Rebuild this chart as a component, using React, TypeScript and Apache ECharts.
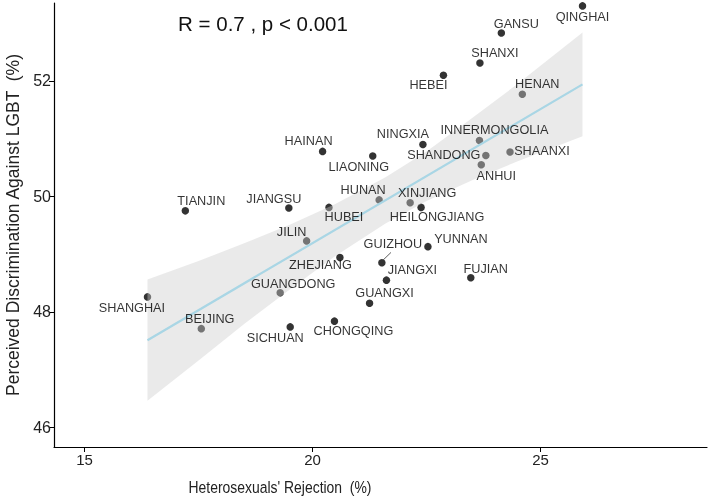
import React, { useEffect, useRef } from "react";
import * as echarts from "echarts";

const provinces = [
  "TIANJIN", "JIANGSU", "HAINAN", "HUBEI", "JILIN", "QINGHAI", "GANSU", "SHANXI",
  "HEBEI", "HENAN", "NINGXIA", "LIAONING", "INNERMONGOLIA", "SHANDONG", "SHAANXI",
  "ANHUI", "HUNAN", "XINJIANG", "HEILONGJIANG", "YUNNAN", "GUIZHOU", "JIANGXI",
  "FUJIAN", "GUANGXI", "SHANGHAI", "BEIJING", "GUANGDONG", "SICHUAN", "CHONGQING",
  "ZHEJIANG",
];
const rejection = [
  17.21, 19.48, 20.22, 20.36, 19.87, 25.92, 24.14, 23.67,
  22.87, 24.6, 22.42, 21.32, 23.66, 23.8, 24.33,
  23.7, 21.46, 22.14, 22.38, 22.53, 21.52, 21.62,
  23.47, 21.25, 16.38, 17.56, 19.29, 19.51, 20.48,
  20.6,
];
const discrimination = [
  49.75, 49.8, 50.78, 49.81, 49.23, 53.3, 52.83, 52.31,
  52.1, 51.77, 50.9, 50.7, 50.97, 50.71, 50.77,
  50.55, 49.94, 49.89, 49.81, 49.13, 48.85, 48.55,
  48.59, 48.15, 48.26, 47.71, 48.33, 47.74, 47.84,
  48.94,
];
const xTicks = [15, 20, 25];
const yTicks = [46, 48, 50, 52];
const fitX = [16.38, 25.92];
const fitY = [47.51, 51.94];
const bandX = [16.38, 17.5, 18.5, 19.5, 20.5, 21.6, 22.5, 23.5, 24.5, 25.92];
const bandLower = [46.46, 47.16, 47.79, 48.39, 48.97, 49.53, 49.92, 50.28, 50.61, 51.04];
const bandUpper = [48.56, 48.88, 49.19, 49.51, 49.87, 50.33, 50.78, 51.36, 51.95, 52.84];
const leaderX = [21.55, 21.72];
const leaderY = [48.9, 49.03];
const annotation = "R = 0.7 , p < 0.001";
const xTitle = "Heterosexuals' Rejection  (%)";
const yTitle = "Perceived Discrimination Against LGBT  (%)";

const labelOffsets: Record<string, [number, number]> = {
  TIANJIN: [16, -10],
  JIANGSU: [-15, -9],
  HAINAN: [-14, -10],
  HUBEI: [15, 10],
  JILIN: [-15, -9],
  QINGHAI: [0, 11],
  GANSU: [15, -9],
  SHANXI: [15, -10],
  HEBEI: [-15, 10],
  HENAN: [15, -10],
  NINGXIA: [-20, -10],
  LIAONING: [-14, 11],
  INNERMONGOLIA: [15, -10],
  SHANDONG: [-42, 0],
  SHAANXI: [32, -1],
  ANHUI: [15, 11],
  HUNAN: [-16, -10],
  XINJIANG: [17, -10],
  HEILONGJIANG: [16, 10],
  YUNNAN: [33, -8],
  GUIZHOU: [11, -19],
  JIANGXI: [26, -10],
  FUJIAN: [15, -9],
  GUANGXI: [15, -10],
  SHANGHAI: [-15.5, 11],
  BEIJING: [8.5, -10],
  GUANGDONG: [13, -9],
  SICHUAN: [-15, 11],
  CHONGQING: [19, 10],
  ZHEJIANG: [-19.5, 7],
};

const SANS = "'Liberation Sans', Arial, Helvetica, sans-serif";

export default function App() {
  const ref = useRef<HTMLDivElement>(null);
  useEffect(() => {
    const chart = echarts.init(ref.current!, null, { renderer: "svg" });
    const points = provinces.map((p, i) => [rejection[i], discrimination[i], p]);
    chart.setOption({
      animation: false,
      grid: { left: 54, right: 2, top: 3, bottom: 50, containLabel: false, outerBoundsMode: "none" },
      xAxis: {
        type: "value",
        min: 14.33,
        max: 28.65,
        axisLine: { show: true, onZero: false, lineStyle: { color: "#000", width: 1.2 } },
        axisTick: { show: true, length: 5, customValues: xTicks, lineStyle: { color: "#000", width: 1 } },
        axisLabel: { customValues: xTicks, fontSize: 15, fontFamily: SANS, color: "#222", margin: 5 },
        splitLine: { show: false },
      },
      yAxis: {
        type: "value",
        min: 45.66,
        max: 53.35,
        name: yTitle,
        nameLocation: "middle",
        nameGap: 31,
        nameRotate: 90,
        nameTextStyle: { fontSize: 17.5, fontFamily: SANS, color: "#222" },
        axisLine: { show: true, onZero: false, lineStyle: { color: "#000", width: 1.2 } },
        axisTick: { show: true, length: 5, customValues: yTicks, lineStyle: { color: "#000", width: 1 } },
        axisLabel: { customValues: yTicks, fontSize: 16, fontFamily: SANS, color: "#222", margin: 3 },
        splitLine: { show: false },
      },
      graphic: [
        {
          type: "text",
          x: 263,
          y: 23,
          z: 10,
          style: {
            text: annotation,
            fontSize: 20.5,
            fontFamily: SANS,
            fill: "#111",
            align: "center",
            verticalAlign: "middle",
            textAlign: "center",
            textVerticalAlign: "middle",
          },
        },
        {
          type: "text",
          x: 280,
          y: 486.5,
          scaleX: 0.82,
          z: 10,
          style: {
            text: xTitle,
            fontSize: 17,
            fontFamily: SANS,
            fill: "#222",
            align: "center",
            verticalAlign: "middle",
            textAlign: "center",
            textVerticalAlign: "middle",
          },
        },
      ],
      series: [
        {
          type: "scatter",
          data: points,
          symbolSize: 7.5,
          itemStyle: { color: "#000" },
          z: 2,
          silent: true,
        },
        {
          type: "custom",
          data: bandX.map((x, i) => [x, bandLower[i], bandUpper[i]]),
          encode: { x: 0, y: [1, 2] },
          z: 3,
          silent: true,
          renderItem: (params: any, api: any) => {
            if (params.dataIndex !== 0) return null;
            const pts: number[][] = [];
            for (let i = 0; i < bandX.length; i++) pts.push(api.coord([bandX[i], bandUpper[i]]));
            for (let i = bandX.length - 1; i >= 0; i--) pts.push(api.coord([bandX[i], bandLower[i]]));
            return {
              type: "polygon",
              shape: { points: pts },
              style: { fill: "rgba(205,205,205,0.42)" },
            };
          },
        },
        {
          type: "line",
          data: fitX.map((x, i) => [x, fitY[i]]),
          showSymbol: false,
          lineStyle: { color: "#a9d6e5", width: 2.2 },
          z: 4,
          silent: true,
        },
        {
          type: "line",
          data: leaderX.map((x, i) => [x, leaderY[i]]),
          showSymbol: false,
          lineStyle: { color: "#333", width: 0.8 },
          z: 5,
          silent: true,
        },
        {
          type: "scatter",
          data: points.map((d) => ({
            value: d,
            label: { offset: labelOffsets[d[2] as string] || [0, -10] },
          })),
          symbolSize: 1,
          itemStyle: { color: "rgba(0,0,0,0)" },
          label: {
            show: true,
            position: "inside",
            formatter: (p: any) => p.value[2],
            fontSize: 12.7,
            fontFamily: SANS,
            color: "#000",
            textBorderWidth: 0,
          },
          z: 6,
          silent: true,
        },
      ],
    });
    return () => chart.dispose();
  }, []);
  return (
    <div
      ref={ref}
      style={{ position: "fixed", left: 0, top: 0, width: 709, height: 497 }}
    />
  );
}
